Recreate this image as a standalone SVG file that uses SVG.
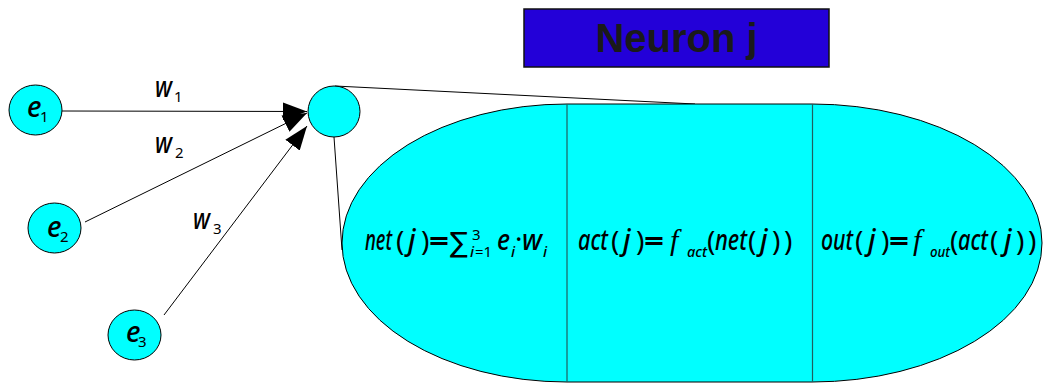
<svg xmlns="http://www.w3.org/2000/svg" width="1051" height="383" viewBox="0 0 1051 383">
<style>
.node{fill:#00ffff;stroke:#000;stroke-width:1}
.conn{stroke:#000;stroke-width:1;fill:none}
.m{font-family:"Noto Sans","DejaVu Sans",sans-serif;font-style:italic;font-weight:500;font-size:28px;fill:#000}
.s{font-family:"Noto Sans","DejaVu Sans",sans-serif;font-style:italic;font-weight:500;font-size:15px;fill:#000}
.u{font-family:"Noto Sans","DejaVu Sans",sans-serif;font-style:normal;font-size:28px;fill:#000}
.us{font-family:"Noto Sans","DejaVu Sans",sans-serif;font-style:normal;font-size:15px;fill:#000}
.f{font-family:"Liberation Serif","DejaVu Serif",serif;font-style:italic;font-size:30px;fill:#000}
.div{stroke:#1f5f5f;stroke-width:1.2}
</style>
<defs>
<marker id="arr" markerUnits="userSpaceOnUse" viewBox="0 0 24 18" refX="24" refY="9" markerWidth="24" markerHeight="18" orient="auto">
<path d="M0,0 L24,9 L0,18 Z" fill="#000"/>
</marker>
</defs>
<rect width="1051" height="383" fill="#fff"/>

<g id="title">
<rect x="524" y="9" width="305" height="58" fill="#2300d8" stroke="#111" stroke-width="1.5"/>
<text x="676.5" y="52" text-anchor="middle" font-family="Liberation Sans, Arial, sans-serif" font-weight="bold" font-size="40" fill="#1a1a1a">Neuron j</text>
</g>

<g id="connectors">
<line class="conn" x1="62" y1="111" x2="307" y2="111.5" marker-end="url(#arr)"/>
<line class="conn" x1="85" y1="222" x2="307" y2="113" marker-end="url(#arr)"/>
<line class="conn" x1="164" y1="315" x2="307" y2="126" marker-end="url(#arr)"/>
<line class="conn" x1="335" y1="86" x2="695" y2="104"/>
<line class="conn" x1="334" y1="137" x2="342" y2="250"/>
</g>

<g id="neuron-body">
<path class="node" d="M567,104 H812 A230,139 0 0 1 812,382 H567 A225,139 0 0 1 567,104 Z"/>
<line class="div" x1="567" y1="104" x2="567" y2="382"/>
<line class="div" x1="812.5" y1="104" x2="812.5" y2="382"/>
</g>

<g id="neuron-j">
<ellipse class="node" cx="334" cy="111.5" rx="26" ry="25.5"/>
</g>

<g id="e1">
<ellipse class="node" cx="35.5" cy="110" rx="26.5" ry="25"/>
<text class="m" x="27" y="117" font-size="25">e</text><text class="us" x="40" y="122">1</text>
</g>
<g id="e2">
<ellipse class="node" cx="54.5" cy="228" rx="26.5" ry="25"/>
<text class="m" x="47" y="237" font-size="25">e</text><text class="us" x="60" y="242">2</text>
</g>
<g id="e3">
<ellipse class="node" cx="134.5" cy="335" rx="26.5" ry="25"/>
<text class="m" x="126" y="342" font-size="25">e</text><text class="us" x="138" y="347">3</text>
</g>

<g id="weights">
<text class="m" x="155" y="97" font-size="25" textLength="17" lengthAdjust="spacingAndGlyphs">w</text><text class="us" x="174" y="102">1</text>
<text class="m" x="155" y="153" font-size="25" textLength="17" lengthAdjust="spacingAndGlyphs">w</text><text class="us" x="175" y="158">2</text>
<text class="m" x="193" y="229" font-size="25" textLength="17" lengthAdjust="spacingAndGlyphs">w</text><text class="us" x="213" y="234">3</text>
</g>

<g id="net-formula">
<text class="m" x="365" y="250" textLength="27" lengthAdjust="spacingAndGlyphs">net</text>
<text class="u" x="396" y="251">(</text>
<text class="m" x="408" y="250">j</text>
<text class="u" x="421" y="251">)</text>
<text class="u" x="429" y="251" font-weight="bold" textLength="20" lengthAdjust="spacingAndGlyphs">=</text>
<text class="u" x="450" y="252" font-size="22" textLength="18" lengthAdjust="spacingAndGlyphs">∑</text>
<text class="us" x="472" y="240">3</text>
<text class="s" x="470" y="257">i</text><text class="us" x="475" y="257" textLength="17" lengthAdjust="spacingAndGlyphs">=1</text>
<text class="m" x="497" y="250" textLength="13" lengthAdjust="spacingAndGlyphs">e</text>
<text class="s" x="511" y="257">i</text>
<text class="u" x="515" y="249">·</text>
<text class="m" x="522" y="250" textLength="20" lengthAdjust="spacingAndGlyphs">w</text>
<text class="s" x="543" y="257">i</text>
</g>

<g id="act-formula">
<text class="m" x="578" y="250" textLength="30" lengthAdjust="spacingAndGlyphs">act</text>
<text class="u" x="611" y="251">(</text>
<text class="m" x="623" y="250">j</text>
<text class="u" x="636" y="251">)</text>
<text class="u" x="644" y="251" font-weight="bold" textLength="20" lengthAdjust="spacingAndGlyphs">=</text>
<text class="f" x="670" y="250">f</text>
<text class="s" x="687" y="257" textLength="20" lengthAdjust="spacingAndGlyphs">act</text>
<text class="u" x="707" y="251">(</text>
<text class="m" x="715" y="250" textLength="32" lengthAdjust="spacingAndGlyphs">net</text>
<text class="u" x="748" y="251">(</text>
<text class="m" x="760" y="250">j</text>
<text class="u" x="772" y="251">)</text>
<text class="u" x="784" y="251">)</text>
</g>

<g id="out-formula">
<text class="m" x="821" y="250" textLength="32" lengthAdjust="spacingAndGlyphs">out</text>
<text class="u" x="855" y="251">(</text>
<text class="m" x="868" y="250">j</text>
<text class="u" x="881" y="251">)</text>
<text class="u" x="889" y="251" font-weight="bold" textLength="20" lengthAdjust="spacingAndGlyphs">=</text>
<text class="f" x="913" y="250">f</text>
<text class="s" x="930" y="257" textLength="20" lengthAdjust="spacingAndGlyphs">out</text>
<text class="u" x="950" y="251">(</text>
<text class="m" x="958" y="250" textLength="30" lengthAdjust="spacingAndGlyphs">act</text>
<text class="u" x="990" y="251">(</text>
<text class="m" x="1004" y="250">j</text>
<text class="u" x="1016" y="251">)</text>
<text class="u" x="1028" y="251">)</text>
</g>
</svg>
